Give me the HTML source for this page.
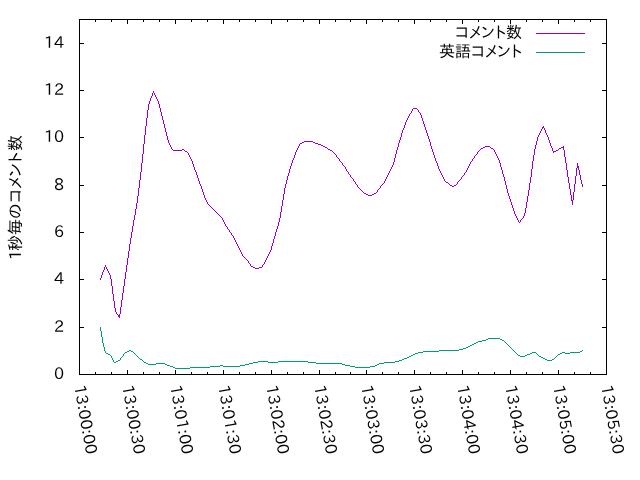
<!DOCTYPE html>
<html lang="ja"><head><meta charset="utf-8"><title>1秒毎のコメント数</title>
<style>html,body{margin:0;padding:0;background:#fff;width:640px;height:480px;overflow:hidden}svg{display:block;will-change:transform}text{font-family:"IPAPGothic","IPA Pゴシック","IPAGothic","Noto Sans CJK JP",sans-serif;font-size:16px;fill:#000}text.n{font-family:"IPAPGothic","IPA Pゴシック","Liberation Sans","IPAGothic",sans-serif}</style>
</head><body>
<svg width="640" height="480" viewBox="0 0 640 480">
<rect x="0" y="0" width="640" height="480" fill="#fff"/>
<g shape-rendering="crispEdges" fill="#000" stroke="none">
<rect x="79" y="19" width="528" height="1"/>
<rect x="79" y="374" width="528" height="1"/>
<rect x="79" y="19" width="1" height="356"/>
<rect x="606" y="19" width="1" height="356"/>
<rect x="79" y="370" width="1" height="4"/>
<rect x="79" y="20" width="1" height="4"/>
<rect x="95" y="372" width="1" height="2"/>
<rect x="95" y="20" width="1" height="2"/>
<rect x="111" y="372" width="1" height="2"/>
<rect x="111" y="20" width="1" height="2"/>
<rect x="127" y="370" width="1" height="4"/>
<rect x="127" y="20" width="1" height="4"/>
<rect x="143" y="372" width="1" height="2"/>
<rect x="143" y="20" width="1" height="2"/>
<rect x="159" y="372" width="1" height="2"/>
<rect x="159" y="20" width="1" height="2"/>
<rect x="175" y="370" width="1" height="4"/>
<rect x="175" y="20" width="1" height="4"/>
<rect x="191" y="372" width="1" height="2"/>
<rect x="191" y="20" width="1" height="2"/>
<rect x="207" y="372" width="1" height="2"/>
<rect x="207" y="20" width="1" height="2"/>
<rect x="223" y="370" width="1" height="4"/>
<rect x="223" y="20" width="1" height="4"/>
<rect x="239" y="372" width="1" height="2"/>
<rect x="239" y="20" width="1" height="2"/>
<rect x="255" y="372" width="1" height="2"/>
<rect x="255" y="20" width="1" height="2"/>
<rect x="271" y="370" width="1" height="4"/>
<rect x="271" y="20" width="1" height="4"/>
<rect x="287" y="372" width="1" height="2"/>
<rect x="287" y="20" width="1" height="2"/>
<rect x="303" y="372" width="1" height="2"/>
<rect x="303" y="20" width="1" height="2"/>
<rect x="319" y="370" width="1" height="4"/>
<rect x="319" y="20" width="1" height="4"/>
<rect x="335" y="372" width="1" height="2"/>
<rect x="335" y="20" width="1" height="2"/>
<rect x="350" y="372" width="1" height="2"/>
<rect x="350" y="20" width="1" height="2"/>
<rect x="366" y="370" width="1" height="4"/>
<rect x="366" y="20" width="1" height="4"/>
<rect x="382" y="372" width="1" height="2"/>
<rect x="382" y="20" width="1" height="2"/>
<rect x="398" y="372" width="1" height="2"/>
<rect x="398" y="20" width="1" height="2"/>
<rect x="414" y="370" width="1" height="4"/>
<rect x="414" y="20" width="1" height="4"/>
<rect x="430" y="372" width="1" height="2"/>
<rect x="430" y="20" width="1" height="2"/>
<rect x="446" y="372" width="1" height="2"/>
<rect x="446" y="20" width="1" height="2"/>
<rect x="462" y="370" width="1" height="4"/>
<rect x="462" y="20" width="1" height="4"/>
<rect x="478" y="372" width="1" height="2"/>
<rect x="478" y="20" width="1" height="2"/>
<rect x="494" y="372" width="1" height="2"/>
<rect x="494" y="20" width="1" height="2"/>
<rect x="510" y="370" width="1" height="4"/>
<rect x="510" y="20" width="1" height="4"/>
<rect x="526" y="372" width="1" height="2"/>
<rect x="526" y="20" width="1" height="2"/>
<rect x="542" y="372" width="1" height="2"/>
<rect x="542" y="20" width="1" height="2"/>
<rect x="558" y="370" width="1" height="4"/>
<rect x="558" y="20" width="1" height="4"/>
<rect x="574" y="372" width="1" height="2"/>
<rect x="574" y="20" width="1" height="2"/>
<rect x="590" y="372" width="1" height="2"/>
<rect x="590" y="20" width="1" height="2"/>
<rect x="606" y="370" width="1" height="4"/>
<rect x="606" y="20" width="1" height="4"/>
<rect x="80" y="374" width="4" height="1"/>
<rect x="602" y="374" width="4" height="1"/>
<rect x="80" y="327" width="4" height="1"/>
<rect x="602" y="327" width="4" height="1"/>
<rect x="80" y="279" width="4" height="1"/>
<rect x="602" y="279" width="4" height="1"/>
<rect x="80" y="232" width="4" height="1"/>
<rect x="602" y="232" width="4" height="1"/>
<rect x="80" y="185" width="4" height="1"/>
<rect x="602" y="185" width="4" height="1"/>
<rect x="80" y="137" width="4" height="1"/>
<rect x="602" y="137" width="4" height="1"/>
<rect x="80" y="90" width="4" height="1"/>
<rect x="602" y="90" width="4" height="1"/>
<rect x="80" y="43" width="4" height="1"/>
<rect x="602" y="43" width="4" height="1"/>
</g>
<text class="n" x="54" y="379">0</text>
<text class="n" x="54" y="332">2</text>
<text class="n" x="54" y="284">4</text>
<text class="n" x="54" y="237">6</text>
<text class="n" x="54" y="190">8</text>
<text class="n" x="44 54" y="142">10</text>
<text class="n" x="44 54" y="95">12</text>
<text class="n" x="44 54" y="48">14</text>
<text class="n" transform="translate(74,386) rotate(80)" x="0 10 20 25 35 45 50 60" y="0">13:00:00</text>
<text class="n" transform="translate(122,386) rotate(80)" x="0 10 20 25 35 45 50 60" y="0">13:00:30</text>
<text class="n" transform="translate(170,386) rotate(80)" x="0 10 20 25 35 45 50 60" y="0">13:01:00</text>
<text class="n" transform="translate(218,386) rotate(80)" x="0 10 20 25 35 45 50 60" y="0">13:01:30</text>
<text class="n" transform="translate(266,386) rotate(80)" x="0 10 20 25 35 45 50 60" y="0">13:02:00</text>
<text class="n" transform="translate(314,386) rotate(80)" x="0 10 20 25 35 45 50 60" y="0">13:02:30</text>
<text class="n" transform="translate(361,386) rotate(80)" x="0 10 20 25 35 45 50 60" y="0">13:03:00</text>
<text class="n" transform="translate(409,386) rotate(80)" x="0 10 20 25 35 45 50 60" y="0">13:03:30</text>
<text class="n" transform="translate(457,386) rotate(80)" x="0 10 20 25 35 45 50 60" y="0">13:04:00</text>
<text class="n" transform="translate(505,386) rotate(80)" x="0 10 20 25 35 45 50 60" y="0">13:04:30</text>
<text class="n" transform="translate(553,386) rotate(80)" x="0 10 20 25 35 45 50 60" y="0">13:05:00</text>
<text class="n" transform="translate(601,386) rotate(80)" x="0 10 20 25 35 45 50 60" y="0">13:05:30</text>
<text transform="translate(20.5,260.00) rotate(-90)" x="0 9 25 41 57 71 83 97 109" y="0">1秒毎のコメント数</text>
<text x="455 469 481 495 506" y="38">コメント数</text>
<rect shape-rendering="crispEdges" x="536" y="33" width="49" height="1" fill="#9400d3"/>
<text x="439 455 471 485 497 511" y="57">英語コメント</text>
<rect shape-rendering="crispEdges" x="536" y="52" width="49" height="1" fill="#009e73"/>
<path shape-rendering="crispEdges" fill="#9400d3" stroke="none" d="M100 278h1v2h-1zM101 275h1v3h-1zM102 272h1v3h-1zM103 270h1v2h-1zM104 267h1v3h-1zM105 265h1v2h-1zM106 267h1v2h-1zM107 269h1v2h-1zM108 271h1v2h-1zM109 273h1v2h-1zM110 275h1v4h-1zM111 279h1v7h-1zM112 286h1v8h-1zM113 294h1v7h-1zM114 301h1v7h-1zM115 308h1v4h-1zM116 312h1v2h-1zM117 314h1v1h-1zM118 315h2v1h-2zM118 316h2v1h-2zM119 314h1v1h-1zM119 317h1v1h-1zM120 307h1v7h-1zM121 300h1v7h-1zM122 293h1v7h-1zM123 286h1v7h-1zM124 279h1v7h-1zM125 272h1v7h-1zM126 265h1v7h-1zM127 258h1v7h-1zM128 251h1v7h-1zM129 244h1v7h-1zM130 238h1v6h-1zM131 232h1v6h-1zM132 226h1v6h-1zM133 220h1v6h-1zM134 215h1v5h-1zM135 209h1v6h-1zM136 203h1v6h-1zM137 196h1v7h-1zM138 188h1v8h-1zM139 180h1v8h-1zM140 172h1v8h-1zM141 163h1v9h-1zM142 154h1v9h-1zM143 144h1v10h-1zM144 135h1v9h-1zM145 126h1v9h-1zM146 118h1v8h-1zM147 110h1v8h-1zM148 104h1v6h-1zM149 101h1v3h-1zM150 98h1v3h-1zM151 96h1v2h-1zM152 93h1v3h-1zM153 91h1v2h-1zM154 93h1v2h-1zM155 95h1v2h-1zM156 97h1v2h-1zM157 99h1v2h-1zM158 101h1v3h-1zM159 104h1v4h-1zM160 108h1v4h-1zM161 112h1v4h-1zM162 116h1v4h-1zM163 120h1v4h-1zM164 124h1v4h-1zM165 128h1v4h-1zM166 132h1v4h-1zM167 136h1v4h-1zM168 140h1v3h-1zM169 143h1v2h-1zM170 145h1v2h-1zM171 147h1v2h-1zM172 149h1v1h-1zM173 150h9v1h-9zM182 149h2v1h-2zM184 150h1v1h-1zM185 151h2v1h-2zM187 152h1v1h-1zM188 153h1v2h-1zM189 155h1v2h-1zM190 157h1v2h-1zM191 159h1v2h-1zM192 161h1v3h-1zM193 164h1v3h-1zM194 167h1v3h-1zM195 170h1v2h-1zM196 172h1v3h-1zM197 175h1v3h-1zM198 178h1v3h-1zM199 181h1v3h-1zM200 184h1v2h-1zM201 186h1v3h-1zM202 189h1v3h-1zM203 192h1v3h-1zM204 195h1v3h-1zM205 198h1v2h-1zM206 200h1v2h-1zM207 202h1v2h-1zM208 204h1v1h-1zM209 205h1v1h-1zM210 206h1v1h-1zM211 207h1v1h-1zM212 208h1v1h-1zM213 209h1v1h-1zM214 210h1v1h-1zM215 211h1v1h-1zM216 212h1v1h-1zM217 213h1v1h-1zM218 214h1v1h-1zM219 215h1v1h-1zM220 216h1v1h-1zM221 217h1v1h-1zM222 218h1v2h-1zM223 220h1v2h-1zM224 222h1v2h-1zM225 224h1v2h-1zM226 226h1v1h-1zM227 227h1v2h-1zM228 229h1v1h-1zM229 230h1v2h-1zM230 232h1v1h-1zM231 233h1v2h-1zM232 235h1v1h-1zM233 236h1v2h-1zM234 238h1v2h-1zM235 240h1v2h-1zM236 242h1v2h-1zM237 244h1v2h-1zM238 246h1v2h-1zM239 248h1v2h-1zM240 250h1v2h-1zM241 252h1v2h-1zM242 254h1v2h-1zM243 256h1v1h-1zM244 257h1v1h-1zM245 258h1v1h-1zM246 259h1v1h-1zM247 260h1v1h-1zM248 261h1v2h-1zM249 263h1v1h-1zM250 264h1v2h-1zM251 266h2v1h-2zM253 267h2v1h-2zM255 268h4v1h-4zM259 267h3v1h-3zM262 265h1v2h-1zM263 264h1v1h-1zM264 262h1v2h-1zM265 260h1v2h-1zM266 258h1v2h-1zM267 256h1v2h-1zM268 254h1v2h-1zM269 252h1v2h-1zM270 250h1v2h-1zM271 246h1v4h-1zM272 243h1v3h-1zM273 239h1v4h-1zM274 236h1v3h-1zM275 232h1v4h-1zM276 229h1v3h-1zM277 226h1v3h-1zM278 222h1v4h-1zM279 218h1v4h-1zM280 212h1v6h-1zM281 206h1v6h-1zM282 200h1v6h-1zM283 194h1v6h-1zM284 188h1v6h-1zM285 184h1v4h-1zM286 180h1v4h-1zM287 176h1v4h-1zM288 173h1v3h-1zM289 169h1v4h-1zM290 166h1v3h-1zM291 163h1v3h-1zM292 160h1v3h-1zM293 158h1v2h-1zM294 155h1v3h-1zM295 152h1v3h-1zM296 150h1v2h-1zM297 148h1v2h-1zM298 146h1v2h-1zM299 144h1v2h-1zM300 143h2v1h-2zM302 142h2v1h-2zM304 141h9v1h-9zM313 142h2v1h-2zM315 143h3v1h-3zM318 144h3v1h-3zM321 145h2v1h-2zM323 146h2v1h-2zM325 147h2v1h-2zM327 148h1v1h-1zM328 149h2v1h-2zM330 150h2v1h-2zM332 151h1v1h-1zM333 152h1v1h-1zM334 153h1v1h-1zM335 154h1v1h-1zM336 155h1v2h-1zM337 157h1v1h-1zM338 158h1v1h-1zM339 159h1v2h-1zM340 161h1v1h-1zM341 162h1v1h-1zM342 163h1v2h-1zM343 165h1v1h-1zM344 166h1v1h-1zM345 167h1v2h-1zM346 169h1v2h-1zM347 171h1v1h-1zM348 172h1v2h-1zM349 174h1v1h-1zM350 175h1v2h-1zM351 177h1v1h-1zM352 178h1v1h-1zM353 179h1v2h-1zM354 181h1v1h-1zM355 182h1v2h-1zM356 184h1v1h-1zM357 185h1v2h-1zM358 187h1v1h-1zM359 188h1v1h-1zM360 189h1v1h-1zM361 190h1v1h-1zM362 191h1v1h-1zM363 192h1v1h-1zM364 193h2v1h-2zM366 194h2v1h-2zM368 195h4v1h-4zM372 194h2v1h-2zM374 193h2v1h-2zM376 192h1v1h-1zM377 190h1v2h-1zM378 189h1v1h-1zM379 188h1v1h-1zM380 186h1v2h-1zM381 185h1v1h-1zM382 184h1v1h-1zM383 183h1v1h-1zM384 181h1v2h-1zM385 179h1v2h-1zM386 177h1v2h-1zM387 175h1v2h-1zM388 173h1v2h-1zM389 171h1v2h-1zM390 169h1v2h-1zM391 167h1v2h-1zM392 165h1v2h-1zM393 162h1v3h-1zM394 158h1v4h-1zM395 154h1v4h-1zM396 150h1v4h-1zM397 147h1v3h-1zM398 143h1v4h-1zM399 140h1v3h-1zM400 137h1v3h-1zM401 133h1v4h-1zM402 130h1v3h-1zM403 128h1v2h-1zM404 125h1v3h-1zM405 122h1v3h-1zM406 120h1v2h-1zM407 118h1v2h-1zM408 116h1v2h-1zM409 114h1v2h-1zM410 113h1v1h-1zM411 111h1v2h-1zM412 109h1v2h-1zM413 108h4v1h-4zM417 109h1v1h-1zM418 110h1v2h-1zM419 112h1v1h-1zM420 113h1v2h-1zM421 115h1v3h-1zM422 118h1v3h-1zM423 121h1v3h-1zM424 124h1v3h-1zM425 127h1v3h-1zM426 130h1v3h-1zM427 133h1v3h-1zM428 136h1v3h-1zM429 139h1v3h-1zM430 142h1v4h-1zM431 146h1v3h-1zM432 149h1v3h-1zM433 152h1v3h-1zM434 155h1v3h-1zM435 158h1v3h-1zM436 161h1v2h-1zM437 163h1v3h-1zM438 166h1v3h-1zM439 169h1v2h-1zM440 171h1v2h-1zM441 173h1v2h-1zM442 175h1v2h-1zM443 177h1v2h-1zM444 179h1v2h-1zM445 181h1v1h-1zM446 182h2v1h-2zM448 183h1v1h-1zM449 184h1v1h-1zM450 185h2v1h-2zM452 186h2v1h-2zM454 185h2v1h-2zM456 184h1v1h-1zM457 182h1v2h-1zM458 181h1v1h-1zM459 180h1v1h-1zM460 179h1v1h-1zM461 177h1v2h-1zM462 176h1v1h-1zM463 175h1v1h-1zM464 173h1v2h-1zM465 172h1v1h-1zM466 170h1v2h-1zM467 168h1v2h-1zM468 166h1v2h-1zM469 164h1v2h-1zM470 162h1v2h-1zM471 161h1v1h-1zM472 159h1v2h-1zM473 158h1v1h-1zM474 156h1v2h-1zM475 155h1v1h-1zM476 154h1v1h-1zM477 152h1v2h-1zM478 151h1v1h-1zM479 150h1v1h-1zM480 149h1v1h-1zM481 148h2v1h-2zM483 147h2v1h-2zM485 146h5v1h-5zM490 147h1v1h-1zM491 148h2v1h-2zM493 149h1v1h-1zM494 150h1v2h-1zM495 152h1v2h-1zM496 154h1v2h-1zM497 156h1v2h-1zM498 158h1v2h-1zM499 160h1v3h-1zM500 163h1v4h-1zM501 167h1v3h-1zM502 170h1v4h-1zM503 174h1v3h-1zM504 177h1v4h-1zM505 181h1v4h-1zM506 185h1v4h-1zM507 189h1v4h-1zM508 193h1v3h-1zM509 196h1v3h-1zM510 199h1v3h-1zM511 202h1v3h-1zM512 205h1v3h-1zM513 208h1v3h-1zM514 211h1v3h-1zM515 214h1v2h-1zM516 216h1v2h-1zM517 218h1v2h-1zM518 220h1v2h-1zM519 222h1v1h-1zM520 220h1v2h-1zM521 219h1v1h-1zM522 218h1v1h-1zM523 216h1v2h-1zM524 213h1v3h-1zM525 208h1v5h-1zM526 202h1v6h-1zM527 196h1v6h-1zM528 190h1v6h-1zM529 183h1v7h-1zM530 177h1v6h-1zM531 169h1v8h-1zM532 161h1v8h-1zM533 155h1v6h-1zM534 149h1v6h-1zM535 145h1v4h-1zM536 141h1v4h-1zM537 137h1v4h-1zM538 135h1v2h-1zM539 133h1v2h-1zM540 131h1v2h-1zM541 129h1v2h-1zM542 127h2v1h-2zM542 128h1v1h-1zM543 126h1v1h-1zM544 128h1v2h-1zM545 130h1v3h-1zM546 133h1v2h-1zM547 135h1v2h-1zM548 137h1v3h-1zM549 140h1v3h-1zM550 143h1v3h-1zM551 146h1v2h-1zM552 148h1v3h-1zM553 151h3v1h-3zM553 152h1v1h-1zM556 150h2v1h-2zM558 149h1v1h-1zM559 148h2v1h-2zM561 147h3v1h-3zM563 146h1v1h-1zM563 148h1v2h-1zM564 150h1v7h-1zM565 157h1v6h-1zM566 163h1v7h-1zM567 170h1v7h-1zM568 177h1v6h-1zM569 183h1v6h-1zM570 189h1v6h-1zM571 195h1v5h-1zM571 200h2v1h-2zM572 201h1v4h-1zM573 192h1v8h-1zM574 184h1v8h-1zM575 176h1v8h-1zM576 168h1v8h-1zM577 163h1v3h-1zM577 166h2v1h-2zM577 167h2v1h-2zM578 168h1v2h-1zM579 170h1v5h-1zM580 175h1v5h-1zM581 180h1v4h-1zM582 184h1v3h-1z"/>
<path shape-rendering="crispEdges" fill="#009e73" stroke="none" d="M100 327h1v4h-1zM101 331h1v6h-1zM102 337h1v6h-1zM103 343h1v4h-1zM104 347h1v4h-1zM105 351h1v2h-1zM106 353h2v1h-2zM108 354h2v1h-2zM110 355h1v1h-1zM111 356h1v2h-1zM112 358h1v2h-1zM113 360h1v2h-1zM114 362h2v1h-2zM116 361h2v1h-2zM118 360h2v1h-2zM120 358h1v2h-1zM121 357h1v1h-1zM122 356h1v1h-1zM123 354h1v2h-1zM124 353h1v1h-1zM125 352h2v1h-2zM127 351h2v1h-2zM129 350h2v1h-2zM131 351h2v1h-2zM133 352h1v1h-1zM134 353h1v1h-1zM135 354h1v1h-1zM136 355h1v1h-1zM137 356h1v1h-1zM138 357h1v1h-1zM139 358h1v1h-1zM140 359h2v1h-2zM142 360h1v1h-1zM143 361h1v1h-1zM144 362h2v1h-2zM146 363h2v1h-2zM148 364h8v1h-8zM156 363h9v1h-9zM165 364h2v1h-2zM167 365h3v1h-3zM170 366h3v1h-3zM173 367h2v1h-2zM175 368h15v1h-15zM190 367h20v1h-20zM210 366h10v1h-10zM220 365h3v1h-3zM223 366h17v1h-17zM240 365h5v1h-5zM245 364h4v1h-4zM249 363h4v1h-4zM253 362h5v1h-5zM258 361h10v1h-10zM268 362h10v1h-10zM278 361h30v1h-30zM308 362h8v1h-8zM316 363h26v1h-26zM342 364h3v1h-3zM345 365h5v1h-5zM350 366h5v1h-5zM355 367h15v1h-15zM370 366h5v1h-5zM375 365h2v1h-2zM377 364h2v1h-2zM379 363h5v1h-5zM384 362h11v1h-11zM395 361h4v1h-4zM399 360h3v1h-3zM402 359h2v1h-2zM404 358h3v1h-3zM407 357h2v1h-2zM409 356h2v1h-2zM411 355h2v1h-2zM413 354h2v1h-2zM415 353h3v1h-3zM418 352h5v1h-5zM423 351h16v1h-16zM439 350h20v1h-20zM459 349h4v1h-4zM463 348h3v1h-3zM466 347h2v1h-2zM468 346h2v1h-2zM470 345h2v1h-2zM472 344h2v1h-2zM474 343h2v1h-2zM476 342h2v1h-2zM478 341h4v1h-4zM482 340h4v1h-4zM486 339h2v1h-2zM488 338h12v1h-12zM500 339h2v1h-2zM502 340h2v1h-2zM504 341h1v1h-1zM505 342h1v1h-1zM506 343h1v1h-1zM507 344h1v1h-1zM508 345h1v1h-1zM509 346h1v1h-1zM510 347h1v1h-1zM511 348h1v1h-1zM512 349h1v1h-1zM513 350h1v1h-1zM514 351h1v1h-1zM515 352h1v1h-1zM516 353h1v1h-1zM517 354h1v1h-1zM518 355h2v1h-2zM520 356h5v1h-5zM525 355h2v1h-2zM527 354h3v1h-3zM530 353h2v1h-2zM532 352h4v1h-4zM536 353h1v1h-1zM537 354h1v1h-1zM538 355h1v1h-1zM539 356h2v1h-2zM541 357h2v1h-2zM543 358h2v1h-2zM545 359h2v1h-2zM547 360h5v1h-5zM552 359h2v1h-2zM554 358h1v1h-1zM555 357h1v1h-1zM556 356h1v1h-1zM557 355h1v1h-1zM558 354h2v1h-2zM560 353h2v1h-2zM562 352h3v1h-3zM565 353h5v1h-5zM570 352h10v1h-10zM580 351h2v1h-2zM582 350h1v1h-1z"/>
</svg>
</body></html>
